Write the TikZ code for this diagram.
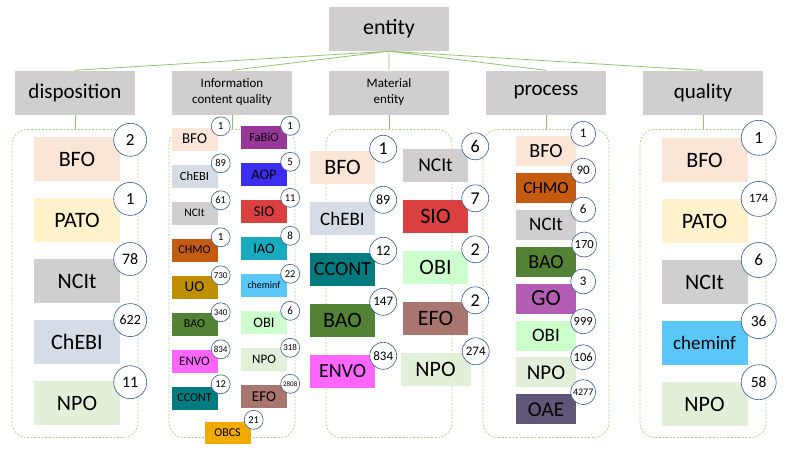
\documentclass[tikz,border=0pt]{standalone}
\usepackage{fontspec}
\setmainfont{Carlito}
\usetikzlibrary{positioning}
\definecolor{headgray}{HTML}{D0CECE}
\definecolor{linkgreen}{HTML}{92C46F}
\definecolor{groupgreen}{HTML}{A9D18E}
\definecolor{numblue}{HTML}{3A5A8C}
\definecolor{bfocol}{HTML}{FBE5D6}
\definecolor{patocol}{HTML}{FFF2CC}
\definecolor{ncitcol}{HTML}{D0CECE}
\definecolor{chebicol}{HTML}{D6DCE5}
\definecolor{npocol}{HTML}{E2F0D9}
\definecolor{chmocol}{HTML}{C55A11}
\definecolor{baocol}{HTML}{548235}
\definecolor{gocol}{HTML}{B45DB5}
\definecolor{obicol}{HTML}{CCFFCC}
\definecolor{oaecol}{HTML}{605678}
\definecolor{cheminfcol}{HTML}{5BC6F8}
\definecolor{fabiocol}{HTML}{983799}
\definecolor{aopcol}{HTML}{3C2EF0}
\definecolor{siocol}{HTML}{DA4040}
\definecolor{iaocol}{HTML}{18AABE}
\definecolor{uocol}{HTML}{BF8F00}
\definecolor{envocol}{HTML}{FF66FF}
\definecolor{ccontcol}{HTML}{007C80}
\definecolor{efocol}{HTML}{A9756F}
\definecolor{obcscol}{HTML}{F0AA00}
\tikzset{
  x=1pt, y=-1pt,
  every node/.style={inner sep=0pt},
  head/.style={fill=headgray, minimum width=120pt, minimum height=44pt,
    align=center, node distance=157pt},
  group/.style={draw=groupgreen, line width=0.7pt, dash pattern=on 2pt off 1.6pt,
    rounded corners=15pt, minimum width=126pt, minimum height=308pt,
    node distance=191pt},
  link/.style={draw=linkgreen, line width=0.8pt},
  fs/.style={font=\fontsize{#1}{#1}\selectfont},
  dbox/.style={fill=#1, minimum width=86pt, minimum height=44pt, node distance=61.1pt},
  mbox/.style={fill=#1, minimum width=65pt, minimum height=33pt, node distance=51pt},
  pbox/.style={fill=#1, minimum width=60pt, minimum height=30pt, node distance=36.9pt},
  ibox/.style={fill=#1, minimum width=46pt, minimum height=23pt, node distance=37pt},
  num/.style={circle, draw=numblue, fill=white, line width=0.6pt, minimum size=#1},
}

\begin{document}
\begin{tikzpicture}
  \useasboundingbox (0,0) rectangle (786,453);

  \node[head, fs=21]                  (disp) at (75,92.5) {disposition};
  \node[head, font=\fontsize{13}{16}\selectfont, right of=disp] (icq) {Information\\content quality};
  \node[head, font=\fontsize{13}{16}\selectfont, right of=icq]  (mat) {Material\\entity};
  \node[head, fs=21, right of=mat]    (proc) {process};
  \node[head, fs=21, right of=proc]   (qual) {quality};
  \node[head, fs=22, node distance=63.5pt, above of=mat] (ent) {entity};

  \node[group, below of=disp] (gdisp) {};
  \node[group, below of=icq]  (gicq)  {};
  \node[group, below of=mat]  (gmat)  {};
  \node[group, below of=proc] (gproc) {};
  \node[group, below of=qual] (gqual) {};

  \draw[link] (ent.south) -- (disp.north)
              (ent.south) -- (icq.north)
              (ent.south) -- (mat.north)
              (ent.south) -- (proc.north)
              (ent.south) -- (qual.north);
  \draw[link] (disp) -- (gdisp)
              (icq)  -- (gicq)
              (mat)  -- (gmat)
              (proc) -- (gproc)
              (qual) -- (gqual);

  % disposition
  \node[dbox=bfocol, fs=22]                     (dbfo)   at (77,159) {BFO};
  \node[num=33pt, fs=17] (dbfon) at ([shift={(10pt,-3pt)}]dbfo.north east) {2};
  \node[dbox=patocol, fs=22, below of=dbfo]     (dpato)  {PATO};
  \node[num=33pt, fs=17] (dpaton) at ([shift={(10pt,-1pt)}]dpato.north east) {1};
  \node[dbox=ncitcol, fs=22, below of=dpato]    (dncit)  {NCIt};
  \node[num=33pt, fs=16] (dncitn) at ([shift={(10pt,0pt)}]dncit.north east) {78};
  \node[dbox=chebicol, fs=22, below of=dncit]   (dchebi) {ChEBI};
  \node[num=33pt, fs=14] (dchebin) at ([shift={(10pt,0pt)}]dchebi.north east) {622};
  \node[dbox=npocol, fs=22, below of=dchebi]    (dnpo)   {NPO};
  \node[num=33pt, fs=16] (dnpon) at ([shift={(10pt,-1pt)}]dnpo.north east) {11};

  % information content quality
  \node[ibox=bfocol, fs=15]                     (ibfo)   at (194.5,139) {BFO};
  \node[num=19pt, fs=11] (ibfon) at ([shift={(3pt,1pt)}]ibfo.north east) {1};
  \node[ibox=chebicol, fs=12.5, below of=ibfo]  (ichebi) {ChEBI};
  \node[num=19pt, fs=10.5] (ichebin) at ([shift={(3pt,1pt)}]ichebi.north east) {89};
  \node[ibox=ncitcol, fs=11.5, below of=ichebi] (incit)  {NCIt};
  \node[num=19pt, fs=10.5] (incitn) at ([shift={(3pt,1pt)}]incit.north east) {61};
  \node[ibox=chmocol, fs=12, below of=incit]    (ichmo)  {CHMO};
  \node[num=19pt, fs=11] (ichmon) at ([shift={(3pt,1pt)}]ichmo.north east) {1};
  \node[ibox=uocol, fs=15, below of=ichmo]      (iuo)    {UO};
  \node[num=19pt, fs=9] (iuon) at ([shift={(3pt,0pt)}]iuo.north east) {730};
  \node[ibox=baocol, fs=12, below of=iuo]       (ibao)   {BAO};
  \node[num=19pt, fs=9] (ibaon) at ([shift={(3pt,0pt)}]ibao.north east) {340};
  \node[ibox=envocol, fs=13, below of=ibao]     (ienvo)  {ENVO};
  \node[num=19pt, fs=9] (ienvon) at ([shift={(3pt,0pt)}]ienvo.north east) {834};
  \node[ibox=ccontcol, fs=12, below of=ienvo]   (iccont) {CCONT};
  \node[num=19pt, fs=10.5] (iccontn) at ([shift={(3pt,2pt)}]iccont.north east) {12};

  \node[ibox=fabiocol, fs=12.5]                 (ifabio) at (264,137.5) {FaBiO};
  \node[num=19pt, fs=11] (ifabion) at ([shift={(3pt,0pt)}]ifabio.north east) {1};
  \node[ibox=aopcol, fs=14.5, below of=ifabio]  (iaop)   {AOP};
  \node[num=19pt, fs=11] (iaopn) at ([shift={(3pt,1pt)}]iaop.north east) {5};
  \node[ibox=siocol, fs=15, below of=iaop]      (isio)   {SIO};
  \node[num=19pt, fs=10.5] (ision) at ([shift={(3pt,2pt)}]isio.north east) {11};
  \node[ibox=iaocol, fs=14.5, below of=isio]    (iiao)   {IAO};
  \node[num=19pt, fs=11] (iiaon) at ([shift={(3pt,1pt)}]iiao.north east) {8};
  \node[ibox=cheminfcol, fs=10, below of=iiao]  (icheminf) {cheminf};
  \node[num=19pt, fs=10.5] (icheminfn) at ([shift={(3pt,0pt)}]icheminf.north east) {22};
  \node[ibox=obicol, fs=14.5, below of=icheminf] (iobi)  {OBI};
  \node[num=19pt, fs=11] (iobin) at ([shift={(3pt,0pt)}]iobi.north east) {6};
  \node[ibox=npocol, fs=13, below of=iobi]      (inpo)   {NPO};
  \node[num=19pt, fs=9] (inpon) at ([shift={(3pt,0pt)}]inpo.north east) {318};
  \node[ibox=efocol, fs=15, below of=inpo]      (iefo)   {EFO};
  \node[num=19pt, fs=7] (iefon) at ([shift={(3pt,1pt)}]iefo.north east) {2808};
  \node[ibox=obcscol, fs=12, minimum height=22pt] (iobcs) at (227.5,433) {OBCS};
  \node[num=19pt, fs=10.5] (iobcsn) at ([shift={(3pt,2pt)}]iobcs.north east) {21};

  % material entity
  \node[mbox=bfocol, fs=22]                     (mbfo)   at (342.5,167.5) {BFO};
  \node[num=27pt, fs=18] (mbfon) at ([shift={(8pt,2pt)}]mbfo.north east) {1};
  \node[mbox=chebicol, fs=19, below of=mbfo]    (mchebi) {ChEBI};
  \node[num=27pt, fs=14] (mchebin) at ([shift={(8pt,2pt)}]mchebi.north east) {89};
  \node[mbox=ccontcol, fs=20, below of=mchebi]  (mccont) {CCONT};
  \node[num=27pt, fs=14.5] (mccontn) at ([shift={(8pt,2pt)}]mccont.north east) {12};
  \node[mbox=baocol, fs=22, below of=mccont]    (mbao)   {BAO};
  \node[num=27pt, fs=13] (mbaon) at ([shift={(8pt,2pt)}]mbao.north east) {147};
  \node[mbox=envocol, fs=20, below of=mbao]     (menvo)  {ENVO};
  \node[num=27pt, fs=13] (menvon) at ([shift={(8pt,-1pt)}]menvo.north east) {834};

  \node[mbox=ncitcol, fs=19.5]                  (mncit)  at (435.5,165) {NCIt};
  \node[num=27pt, fs=18] (mncitn) at ([shift={(7pt,2pt)}]mncit.north east) {6};
  \node[mbox=siocol, fs=22, below of=mncit]     (msio)   {SIO};
  \node[num=27pt, fs=18] (msion) at ([shift={(7pt,1pt)}]msio.north east) {7};
  \node[mbox=obicol, fs=22, below of=msio]      (mobi)   {OBI};
  \node[num=27pt, fs=18] (mobin) at ([shift={(7pt,1pt)}]mobi.north east) {2};
  \node[mbox=efocol, fs=22, below of=mobi]      (mefo)   {EFO};
  \node[num=27pt, fs=18] (mefon) at ([shift={(7pt,1pt)}]mefo.north east) {2};
  \node[mbox=npocol, fs=22, minimum width=70pt, below of=mefo] (mnpo) {NPO};
  \node[num=27pt, fs=13] (mnpon) at ([shift={(5pt,1pt)}]mnpo.north east) {274};

  % process
  \node[pbox=bfocol, fs=20]                     (pbfo)   at (546,151) {BFO};
  \node[num=25pt, fs=13] (pbfon) at ([shift={(7pt,2pt)}]pbfo.north east) {1};
  \node[pbox=chmocol, fs=17, below of=pbfo]     (pchmo)  {CHMO};
  \node[num=25pt, fs=13] (pchmon) at ([shift={(7pt,2pt)}]pchmo.north east) {90};
  \node[pbox=ncitcol, fs=19, below of=pchmo]    (pncit)  {NCIt};
  \node[num=25pt, fs=13] (pncitn) at ([shift={(7pt,0pt)}]pncit.north east) {6};
  \node[pbox=baocol, fs=20, below of=pncit]     (pbao)   {BAO};
  \node[num=25pt, fs=12.5] (pbaon) at ([shift={(8pt,2pt)}]pbao.north east) {170};
  \node[pbox=gocol, fs=23, below of=pbao]       (pgo)    {GO};
  \node[num=25pt, fs=13] (pgon) at ([shift={(7pt,2pt)}]pgo.north east) {3};
  \node[pbox=obicol, fs=19, below of=pgo]       (pobi)   {OBI};
  \node[num=25pt, fs=12.5] (pobin) at ([shift={(7pt,-1pt)}]pobi.north east) {999};
  \node[pbox=npocol, fs=21, below of=pobi]      (pnpo)   {NPO};
  \node[num=25pt, fs=12.5] (pnpon) at ([shift={(7pt,0pt)}]pnpo.north east) {106};
  \node[pbox=oaecol, fs=21, below of=pnpo]      (poae)   {OAE};
  \node[num=25pt, fs=10] (poaen) at ([shift={(7pt,2pt)}]poae.north east) {4277};

  % quality
  \node[dbox=bfocol, fs=22]                     (qbfo)   at (704.5,160) {BFO};
  \node[num=35pt, fs=17] (qbfon) at ([shift={(11pt,0pt)}]qbfo.north east) {1};
  \node[dbox=patocol, fs=22, below of=qbfo]     (qpato)  {PATO};
  \node[num=35pt, fs=12.5] (qpaton) at ([shift={(11pt,0pt)}]qpato.north east) {174};
  \node[dbox=ncitcol, fs=22, below of=qpato]    (qncit)  {NCIt};
  \node[num=35pt, fs=17] (qncitn) at ([shift={(11pt,0pt)}]qncit.north east) {6};
  \node[dbox=cheminfcol, fs=19, below of=qncit] (qcheminf) {cheminf};
  \node[num=35pt, fs=15.5] (qcheminfn) at ([shift={(11pt,0pt)}]qcheminf.north east) {36};
  \node[dbox=npocol, fs=22, below of=qcheminf]  (qnpo)   {NPO};
  \node[num=35pt, fs=15.5] (qnpon) at ([shift={(11pt,0pt)}]qnpo.north east) {58};
\end{tikzpicture}
\end{document}
